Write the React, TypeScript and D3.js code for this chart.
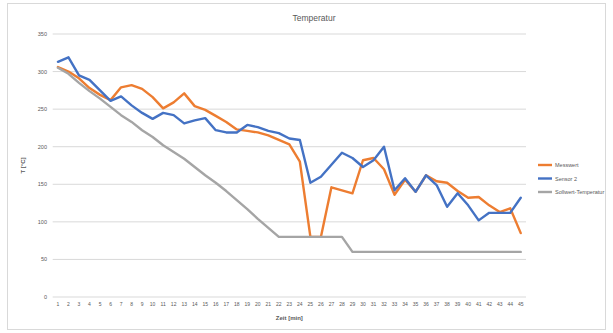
import React from "react";
import * as d3 from "d3";

const categories: string[] = Array.from({ length: 45 }, (_, i) => String(i + 1));

const seriesNames = ["Messwert", "Sensor 2", "Sollwert-Temperatur"];
const seriesColors = ["#ED7D31", "#4472C4", "#A5A5A5"];

const orangeValues = [
  306, 300, 291, 278, 269, 262, 279, 282, 277, 266, 251, 259, 271, 254, 249,
  241, 233, 223, 221, 219, 215, 209, 203, 180, 80, 80, 146, 142, 138, 182,
  185, 170, 136, 156, 140, 162, 154, 152, 141, 132, 133, 122, 113, 118, 85,
];
const blueValues = [
  313, 319, 295, 289, 275, 261, 267, 255, 245, 237, 245, 242, 231, 235, 238,
  222, 219, 219, 229, 226, 221, 218, 211, 209, 152, 160, 176, 192, 185, 173,
  182, 200, 142, 158, 140, 162, 149, 120, 138, 122, 102, 112, 112, 112, 132,
];
const grayValues = [
  305, 297, 285, 274, 264, 253, 242, 233, 222, 213, 202, 193, 184, 173, 162,
  152, 141, 129, 117, 104, 92, 80, 80, 80, 80, 80, 80, 80, 60, 60,
  60, 60, 60, 60, 60, 60, 60, 60, 60, 60, 60, 60, 60, 60, 60,
];
const yTicks = [0, 50, 100, 150, 200, 250, 300, 350];

const chartTitle = "Temperatur";
const xTitle = "Zeit [min]";
const yTitle = "T [°C]";

export default function App() {
  const W = 613;
  const H = 333;
  const left = 52.7;
  const right = 526;
  const top = 34;
  const bottom = 297;

  const x = d3.scaleBand<string>().domain(categories).range([left, right]);
  const y = d3.scaleLinear().domain([0, 350]).range([bottom, top]);
  const cx = (c: string) => (x(c) as number) + x.bandwidth() / 2;

  const series = [orangeValues, blueValues, grayValues];
  const line = d3
    .line<number>()
    .x((_, i) => cx(categories[i]))
    .y((d) => y(d));

  const font = "'Liberation Sans', Arial, sans-serif";
  const textColor = "#595959";

  return (
    <svg
      width={W}
      height={H}
      style={{ position: "absolute", left: 0, top: 0, background: "#fff" }}
      fontFamily={font}
    >
      <rect x={7.5} y={3.5} width={598} height={326} fill="#fff" stroke="#D9D9D9" />
      <text x={314} y={21} textAnchor="middle" fontSize={8.5} fill={textColor}>
        {chartTitle}
      </text>
      {yTicks.map((t) => (
        <g key={t}>
          <line x1={left} x2={right} y1={y(t)} y2={y(t)} stroke="#D9D9D9" strokeWidth={1} />
          <text x={47} y={y(t) + 2} textAnchor="end" fontSize={5.5} fill={textColor}>
            {t}
          </text>
        </g>
      ))}
      {categories.map((c) => (
        <text key={c} x={cx(c)} y={306} textAnchor="middle" fontSize={5} fill={textColor}>
          {c}
        </text>
      ))}
      <text x={(left + right) / 2} y={320} textAnchor="middle" fontSize={6} fontWeight="bold" fill={textColor}>
        {xTitle}
      </text>
      <text
        transform={`translate(25,${(top + bottom) / 2}) rotate(-90)`}
        textAnchor="middle"
        fontSize={6}
        fontWeight="bold"
        fill={textColor}
      >
        {yTitle}
      </text>
      {series.map((s, k) => (
        <path
          key={k}
          d={line(s) as string}
          fill="none"
          stroke={seriesColors[k]}
          strokeWidth={2.4}
          strokeLinejoin="round"
          strokeLinecap="round"
        />
      ))}
      {seriesNames.map((n, k) => (
        <g key={n}>
          <line
            x1={538}
            x2={552}
            y1={165 + k * 13.5}
            y2={165 + k * 13.5}
            stroke={seriesColors[k]}
            strokeWidth={2.4}
          />
          <text x={555} y={167 + k * 13.5} fontSize={5.5} fill={textColor}>
            {n}
          </text>
        </g>
      ))}
    </svg>
  );
}
